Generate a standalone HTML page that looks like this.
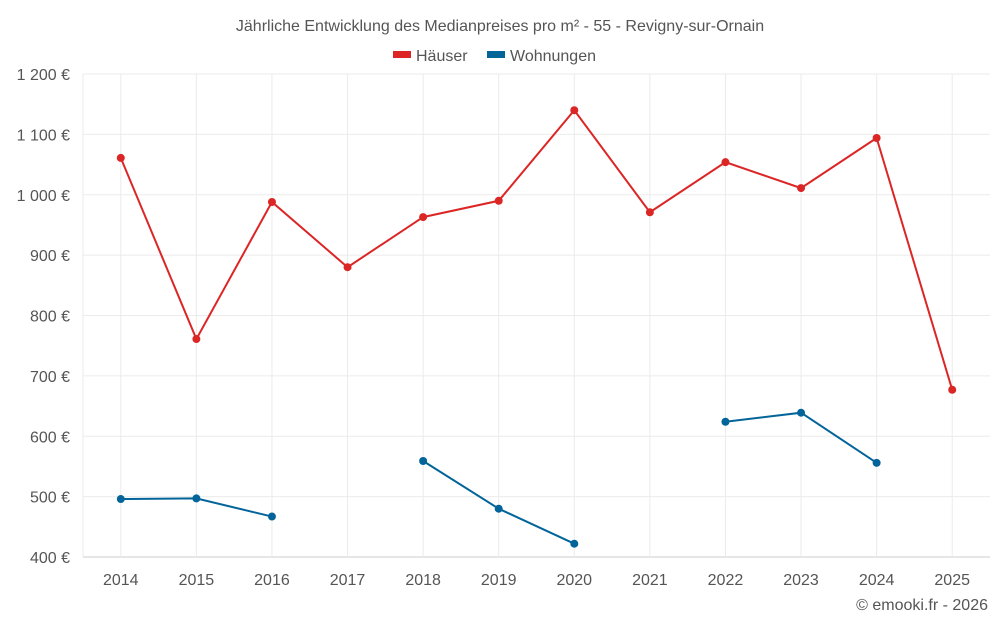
<!DOCTYPE html>
<html><head><meta charset="utf-8"><style>
body{margin:0;background:#fff;font-family:"Liberation Sans",sans-serif}
svg text{font-family:"Liberation Sans",sans-serif;fill:#555}
</style></head><body>
<svg id="c" width="1000" height="625">
<text x="500" y="31" text-anchor="middle" font-size="16">Jährliche Entwicklung des Medianpreises pro m² - 55 - Revigny-sur-Ornain</text>
<g>
<g><rect x="393" y="51" width="18" height="7" fill="#dc2626"/><text x="416" y="61" font-size="16">Häuser</text></g>
<g><rect x="487" y="51" width="18" height="7" fill="#03649a"/><text x="510" y="61" font-size="16">Wohnungen</text></g>
</g>
<g id="grid"></g><g id="axes"></g><g id="series"></g>
<text x="988" y="610" text-anchor="end" font-size="16">© emooki.fr - 2026</text>
</svg>
<script>
const years=[2014,2015,2016,2017,2018,2019,2020,2021,2022,2023,2024,2025];
const houses=[1061,761,988,880,963,990,1140,971,1054,1011,1094,677];
const apartments=[496,497,467,null,559,480,422,null,624,639,556,null];
const yTicks=[400,500,600,700,800,900,1000,1100,1200];
const yTickLabels=["400 €","500 €","600 €","700 €","800 €","900 €","1 000 €","1 100 €","1 200 €"];
const NS="http://www.w3.org/2000/svg";
const L=83,R=990,T=74,B=557;
const step=(R-L)/years.length;
const x=i=>L+step*(i+0.5);
const y=v=>B-(v-400)/800*(B-T);
function mk(t,a,p){const e=document.createElementNS(NS,t);for(const k in a)e.setAttribute(k,a[k]);p.appendChild(e);return e;}
const g=document.getElementById('grid'),ax=document.getElementById('axes'),s=document.getElementById('series');
yTicks.forEach((v,i)=>{
 const ln=mk('line',{x1:L,x2:R,y1:y(v),y2:y(v),stroke:i==0?'#ccc':'#ebebeb'},g);
 
 
 const t=mk('text',{x:70,y:y(v)+6,'text-anchor':'end','font-size':16},ax);t.textContent=yTickLabels[i];
 
 
});
const edge=mk('line',{x1:L,x2:L,y1:T,y2:B,stroke:'#ebebeb'},g);


years.forEach((yr,i)=>{
 const ln=mk('line',{x1:x(i),x2:x(i),y1:T,y2:B,stroke:'#ebebeb'},g);
 
 
 const t=mk('text',{x:x(i),y:585,'text-anchor':'middle','font-size':16},ax);t.textContent=yr;
 
 
});
function draw(data,color,name){
 let segs=[],cur=[];
 data.forEach((v,i)=>{if(v==null){if(cur.length)segs.push(cur);cur=[];}else cur.push([x(i),y(v)]);});
 if(cur.length)segs.push(cur);
 segs.forEach(sg=>{
  const p=mk('polyline',{points:sg.map(q=>q.join(',')).join(' '),fill:'none',stroke:color,'stroke-width':2},s);
  
  
 });
 data.forEach((v,i)=>{if(v==null)return;
  const c=mk('circle',{cx:x(i),cy:y(v),r:4,fill:color},s);
  
  
 });
}
draw(houses,'#dc2626','houses');
draw(apartments,'#03649a','apartments');
</script>
</body></html>
